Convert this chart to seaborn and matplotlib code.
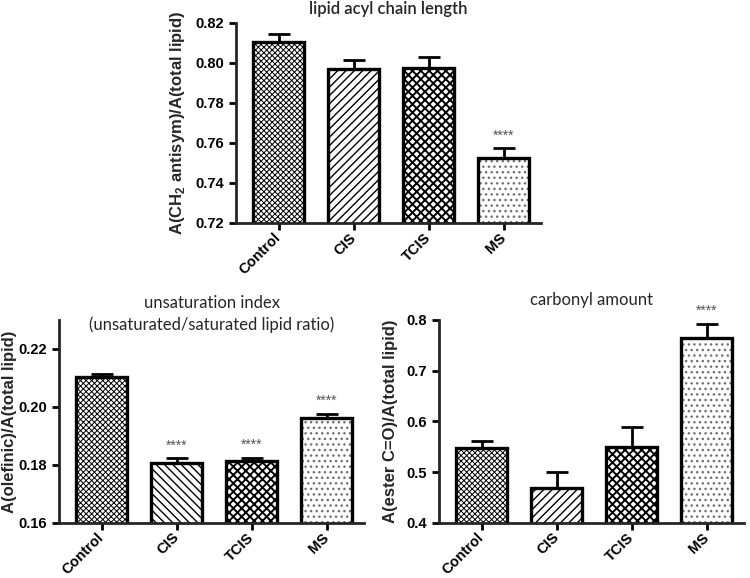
import numpy as np
import pandas as pd
import matplotlib
matplotlib.use("Agg")
import matplotlib.pyplot as plt
import seaborn as sns

groups = ["Control", "CIS", "TCIS", "MS"]

chain_mean = [0.8105, 0.7967, 0.7972, 0.7527]
chain_err = [0.0037, 0.0045, 0.0058, 0.0045]
chain_stars = ["", "", "", "****"]

unsat_mean = [0.2102, 0.1807, 0.1812, 0.1962]
unsat_err = [0.0010, 0.0015, 0.0013, 0.0015]
unsat_stars = ["", "****", "****", "****"]

carb_mean = [0.547, 0.469, 0.549, 0.764]
carb_err = [0.015, 0.031, 0.040, 0.029]
carb_stars = ["", "", "", "****"]

sns.set_style("ticks")
plt.rcParams["font.family"] = ["Liberation Sans", "DejaVu Sans"]
plt.rcParams["mathtext.fontset"] = "custom"
plt.rcParams["mathtext.bf"] = "Liberation Sans:bold"
plt.rcParams["mathtext.rm"] = "Liberation Sans:bold"
plt.rcParams["hatch.linewidth"] = 1.1

hatch_colors = ["black", "black", "black", "#707070"]
hatch_widths = [0.7, 1.0, 1.4, 1.0]


def draw_panel(ax, means, errs, stars, hatches, ylim, yticks, ylabel, fmt, labelpad):
    df = pd.DataFrame({"group": groups, "value": means})
    # hatch fill first, black outline on top
    sns.barplot(data=df, x="group", y="value", ax=ax, color="white",
                saturation=1, width=0.68, errorbar=None, linewidth=0)
    for patch, hatch, hcol, hw in zip(ax.patches, hatches, hatch_colors, hatch_widths):
        patch.set_hatch(hatch)
        patch.set_edgecolor(hcol)
        patch.set_linewidth(0)
        if hasattr(patch, "set_hatch_linewidth"):
            patch.set_hatch_linewidth(hw)
    sns.barplot(data=df, x="group", y="value", ax=ax, color="black",
                fill=False, width=0.68, errorbar=None, linewidth=2.4)

    x = np.arange(len(groups))
    ax.errorbar(x, means, yerr=[np.zeros(len(errs)), errs], fmt="none",
                ecolor="black", elinewidth=2, capsize=8, capthick=2, zorder=1)
    for xi, m, e, s in zip(x, means, errs, stars):
        if s:
            ax.annotate(s, (xi, m + e), xytext=(0, 9), textcoords="offset points",
                        ha="center", va="center", fontsize=10, color="#555555")

    ax.set_ylim(*ylim)
    ax.set_yticks(yticks)
    ax.set_yticklabels([fmt.format(t) for t in yticks])
    ax.set_xlim(-0.57, 3.5)
    ax.set_xlabel("")
    ax.set_ylabel(ylabel, fontsize=12, fontweight="bold", labelpad=labelpad)
    sns.despine(ax=ax)
    for sp in ["left", "bottom"]:
        ax.spines[sp].set_linewidth(2)
    ax.tick_params(axis="both", width=2, length=5, labelsize=10.5, colors="black")
    ax.tick_params(axis="x", pad=4)
    plt.setp(ax.get_xticklabels(), rotation=45, ha="right", va="center",
             rotation_mode="anchor", fontweight="bold")
    plt.setp(ax.get_yticklabels(), fontweight="bold")


fig = plt.figure(figsize=(7.5, 5.78), dpi=100)
ax_top = fig.add_axes([0.3147, 0.6142, 0.407, 0.3465])
ax_bl = fig.add_axes([0.0787, 0.0957, 0.407, 0.3507])
ax_br = fig.add_axes([0.5853, 0.0957, 0.407, 0.3507])

draw_panel(ax_top, chain_mean, chain_err, chain_stars,
           ["xxxxxx", "////", "xxxx", "..."], (0.72, 0.82),
           [0.72, 0.74, 0.76, 0.78, 0.80, 0.82],
           r"A(CH$_\mathbf{2}$ antisym)/A(total lipid)", "{:.2f}", 6)
draw_panel(ax_bl, unsat_mean, unsat_err, unsat_stars,
           ["xxxxxx", "\\\\\\\\", "xxxx", "..."], (0.16, 0.23),
           [0.16, 0.18, 0.20, 0.22],
           "A(olefinic)/A(total lipid)", "{:.2f}", 1)
draw_panel(ax_br, carb_mean, carb_err, carb_stars,
           ["xxxxxx", "////", "xxxx", "..."], (0.4, 0.8),
           [0.4, 0.5, 0.6, 0.7, 0.8],
           "A(ester C=O)/A(total lipid)", "{:.1f}", 6)

title_font = dict(family=["Lato", "DejaVu Sans"], ha="center", va="center")
ax_top.text(0.5, 1.07, "lipid acyl chain length", transform=ax_top.transAxes,
            fontsize=12, fontweight="semibold", **title_font)
ax_bl.text(0.5, 1.03, "unsaturation index\n(unsaturated/saturated lipid ratio)",
           transform=ax_bl.transAxes, linespacing=1.35, fontsize=12, **title_font)
ax_br.text(0.5, 1.1, "carbonyl amount", transform=ax_br.transAxes,
           fontsize=12, **title_font)

fig.savefig("out.png", dpi=100)
